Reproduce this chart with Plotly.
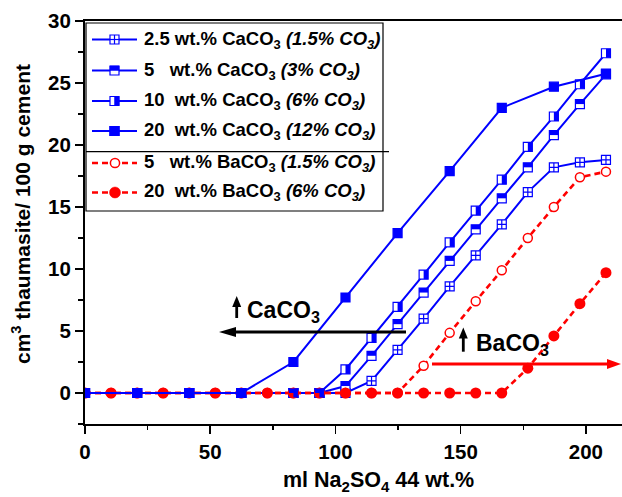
import plotly.graph_objects as go

# ---------------- data ----------------
ca25_x = [0, 20.8, 41.6, 62.4, 83.2, 93.6, 104.0, 114.4, 124.8, 135.2, 145.6, 156.0, 166.4, 176.8, 187.2, 197.6, 208.0]
ca25_y = [0, 0, 0, 0, 0, 0, 0.0, 0.97, 3.47, 6.0, 8.6, 11.1, 13.6, 16.2, 18.2, 18.6, 18.8]

ca5_x = [0, 20.8, 41.6, 62.4, 83.2, 93.6, 104.0, 114.4, 124.8, 135.2, 145.6, 156.0, 166.4, 176.8, 187.2, 197.6, 208.0]
ca5_y = [0, 0, 0, 0, 0, 0, 0.56, 3.0, 5.55, 8.1, 10.65, 13.2, 15.7, 18.2, 20.8, 23.3, 25.7]

ca10_x = [0, 20.8, 41.6, 62.4, 83.2, 93.6, 104.0, 114.4, 124.8, 135.2, 145.6, 156.0, 166.4, 176.8, 187.2, 197.6, 208.0]
ca10_y = [0, 0, 0, 0, 0, 0, 1.9, 4.45, 6.95, 9.55, 12.15, 14.7, 17.2, 19.85, 22.3, 24.9, 27.4]

ca20_x = [0, 20.8, 41.6, 62.4, 83.2, 104.0, 124.8, 145.6, 166.4, 187.2, 208.0]
ca20_y = [0, 0, 0, 0, 2.5, 7.7, 12.9, 17.9, 23.0, 24.7, 25.75]

ba_x = [0, 10.4, 20.8, 31.2, 41.6, 52.0, 62.4, 72.8, 83.2, 93.6, 104.0, 114.4, 124.8,
        135.2, 145.6, 156.0, 166.4, 176.8, 187.2, 197.6, 208.0]
ba5_y = [0, 0, 0, 0, 0, 0, 0, 0, 0, 0, 0, 0, 0,
         2.2, 4.85, 7.4, 9.9, 12.5, 15.0, 17.4, 17.85]
ba20_y = [0, 0, 0, 0, 0, 0, 0, 0, 0, 0, 0, 0, 0,
          0, 0, 0, 0, 2.0, 4.6, 7.2, 9.7]

legend_labels = [
    "2.5 wt.% CaCO<sub>3</sub> <i>(1.5% CO<sub>3</sub>)</i>",
    "5\u00a0\u00a0 wt.% CaCO<sub>3</sub> <i>(3% CO<sub>3</sub>)</i>",
    "10\u00a0 wt.% CaCO<sub>3</sub> <i>(6% CO<sub>3</sub>)</i>",
    "20\u00a0 wt.% CaCO<sub>3</sub> <i>(12% CO<sub>3</sub>)</i>",
    "5\u00a0\u00a0 wt.% BaCO<sub>3</sub> <i>(1.5% CO<sub>3</sub>)</i>",
    "20\u00a0 wt.% BaCO<sub>3</sub> <i>(6% CO<sub>3</sub>)</i>",
]
x_title = "ml Na<sub>2</sub>SO<sub>4</sub> 44 wt.%"
y_title = "cm<sup>3</sup> thaumasite/ 100 g cement"
x_ticks = [0, 50, 100, 150, 200]
y_ticks = [0, 5, 10, 15, 20, 25, 30]

# ---------------- layout geometry ----------------
W, H = 622, 497
ML, MR, MT, MB = 85, 0, 21, 73
PW, PH = W - ML - MR, H - MT - MB
XR = [0, 214.4]
YR = [-2.5, 30]
pxu = PW / (XR[1] - XR[0])
pyu = PH / (YR[1] - YR[0])

BLUE = "#0000FF"
RED = "#FF0000"
FONT = "Liberation Sans, Arial, sans-serif"
MS = 9          # square marker size
HALF = MS / 2.0
SHIFT = HALF / 2.0

def P(px, py):
    return (px - ML) / PW, (H - MB - py) / PH

fig = go.Figure()

def sq_trace(x, y, symbol, color_fill):
    return go.Scatter(x=x, y=y, mode="lines+markers", showlegend=False,
                      line=dict(color=BLUE, width=2),
                      marker=dict(symbol=symbol, size=MS, color=color_fill,
                                  line=dict(color=BLUE, width=1.2)))

# 2.5, 5, 10 wt% CaCO3 (under the red series)
fig.add_trace(sq_trace(ca25_x, ca25_y, "square-cross", "white"))
fig.add_trace(sq_trace(ca5_x, ca5_y, "square", "white"))
# top half fill for 5 wt%
fig.add_trace(go.Scatter(x=ca5_x, y=ca5_y, xaxis="x", yaxis="y2", mode="markers", showlegend=False,
                         marker=dict(symbol="line-ew", size=MS / 1.4, color=BLUE,
                                     line=dict(color=BLUE, width=HALF))))
fig.add_trace(sq_trace(ca10_x, ca10_y, "square", "white"))
# right half fill for 10 wt%
fig.add_trace(go.Scatter(x=ca10_x, y=ca10_y, xaxis="x2", yaxis="y", mode="markers", showlegend=False,
                         marker=dict(symbol="line-ns", size=MS / 1.4, color=BLUE,
                                     line=dict(color=BLUE, width=HALF))))

# BaCO3 series
fig.add_trace(go.Scatter(x=ba_x, y=ba5_y, mode="lines+markers", showlegend=False,
                         line=dict(color=RED, width=2.6, dash="6px,4px"),
                         marker=dict(symbol="circle", size=9, color="white",
                                     line=dict(color=RED, width=1.5))))
fig.add_trace(go.Scatter(x=ba_x, y=ba20_y, mode="lines+markers", showlegend=False,
                         line=dict(color=RED, width=2.6, dash="6px,4px"),
                         marker=dict(symbol="circle", size=11, color=RED,
                                     line=dict(color=RED, width=0))))
# 20 wt% CaCO3 on top
fig.add_trace(sq_trace(ca20_x, ca20_y, "square", BLUE))

shapes = []
annotations = []

def line_px(x0, y0, x1, y1, color="black", width=1.5, dash=None):
    a, b = P(x0, y0)
    c, d = P(x1, y1)
    ln = dict(color=color, width=width)
    if dash:
        ln["dash"] = dash
    shapes.append(dict(type="line", xref="paper", yref="paper", x0=a, y0=b, x1=c, y1=d, line=ln))

def rect_px(x0, y0, x1, y1, fill=None, color="black", width=1.0):
    a, b = P(x0, y0)
    c, d = P(x1, y1)
    shapes.append(dict(type="rect", xref="paper", yref="paper", x0=a, y0=b, x1=c, y1=d,
                       fillcolor=fill if fill else "rgba(0,0,0,0)",
                       line=dict(color=color, width=width)))

def circle_px(cx, cy, r, fill, color, width):
    a, b = P(cx - r, cy + r)
    c, d = P(cx + r, cy - r)
    shapes.append(dict(type="circle", xref="paper", yref="paper", x0=a, y0=b, x1=c, y1=d,
                       fillcolor=fill, line=dict(color=color, width=width)))

def tri_px(pts, color):
    path = "M " + " L ".join("%.5f,%.5f" % P(px, py) for px, py in pts) + " Z"
    shapes.append(dict(type="path", xref="paper", yref="paper", path=path,
                       fillcolor=color, line=dict(color=color, width=0)))

# ---------------- legend (manual) ----------------
rect_px(86, 23, 383, 211, fill="white", color="black", width=1.2)
line_px(86, 151.7, 389, 151.7, color="black", width=1.2)
rows = [39.5, 70.5, 101, 131, 163, 192.5]
for i, (yy, lab) in enumerate(zip(rows, legend_labels)):
    if i < 4:
        line_px(92, yy, 137, yy, color=BLUE, width=2)
        cx = 114.5
        h = MS / 2.0
        rect_px(cx - h, yy - h, cx + h, yy + h, fill="white", color=BLUE, width=1.2)
        if i == 0:
            line_px(cx, yy - h, cx, yy + h, color=BLUE, width=1.2)
            line_px(cx - h, yy, cx + h, yy, color=BLUE, width=1.2)
        elif i == 1:
            rect_px(cx - h, yy - h, cx + h, yy, fill=BLUE, color=BLUE, width=0.5)
        elif i == 2:
            rect_px(cx, yy - h, cx + h, yy + h, fill=BLUE, color=BLUE, width=0.5)
        else:
            rect_px(cx - h, yy - h, cx + h, yy + h, fill=BLUE, color=BLUE, width=1.2)
    else:
        line_px(92, yy, 137, yy, color=RED, width=2.6, dash="6px,4px")
        if i == 4:
            circle_px(115, yy, 4.6, "white", RED, 1.5)
        else:
            circle_px(115, yy, 5.5, RED, RED, 0.5)
    lx, ly = P(142, yy)
    annotations.append(dict(text=lab, xref="paper", yref="paper", x=lx, y=ly,
                            xanchor="left", yanchor="middle", showarrow=False,
                            font=dict(family=FONT, size=18.5, color="black", weight=700)))

# ---------------- arrows & labels ----------------
# black CaCO3 arrow (pointing left)
line_px(406, 332, 232, 332, color="black", width=3)
tri_px([(219, 332), (236, 327), (236, 337)], "black")
# red BaCO3 arrow (pointing right)
line_px(432, 364, 610, 364, color=RED, width=3)
tri_px([(621, 364), (607, 359), (607, 369)], RED)
# small up arrows
line_px(236.7, 318, 236.7, 304, color="black", width=2.8)
tri_px([(236.7, 296.0), (232.2, 307), (241.2, 307)], "black")
line_px(463.3, 351.7, 463.3, 337, color="black", width=2.8)
tri_px([(463.3, 327.5), (458.8, 338.5), (467.8, 338.5)], "black")

ax_, ay_ = P(245, 311)
annotations.append(dict(text="CaCO<sub>3</sub>", xref="paper", yref="paper", x=ax_, y=ay_,
                        xanchor="left", yanchor="middle", showarrow=False,
                        font=dict(family=FONT, size=23, color="black", weight=700)))
bx_, by_ = P(474, 344)
annotations.append(dict(text="BaCO<sub>3</sub>", xref="paper", yref="paper", x=bx_, y=by_,
                        xanchor="left", yanchor="middle", showarrow=False,
                        font=dict(family=FONT, size=23, color="black", weight=700)))

# axis titles
tx, ty = P(378, 481)
annotations.append(dict(text=x_title, xref="paper", yref="paper", x=tx, y=ty,
                        xanchor="center", yanchor="middle", showarrow=False,
                        font=dict(family=FONT, size=21.5, color="black", weight=700)))
ux, uy = P(21, 214)
annotations.append(dict(text=y_title, xref="paper", yref="paper", x=ux, y=uy, textangle=-90,
                        xanchor="center", yanchor="middle", showarrow=False,
                        font=dict(family=FONT, size=21, color="black", weight=700)))

fig.update_layout(
    width=W, height=H,
    margin=dict(l=ML, r=MR, t=MT, b=MB, pad=0),
    paper_bgcolor="white", plot_bgcolor="white",
    font=dict(family=FONT, size=20, color="black", weight=700),
    showlegend=False,
    hovermode=False,
    shapes=shapes,
    annotations=annotations,
    xaxis=dict(range=XR, tickmode="array", tickvals=x_ticks, ticktext=[str(v) for v in x_ticks],
               showgrid=False, zeroline=False, showline=True, linecolor="black", linewidth=2,
               mirror=True, ticks="outside", ticklen=8, tickwidth=1.5, tickcolor="black",
               minor=dict(tickvals=[25, 75, 125, 175], ticks="outside", ticklen=4,
                          tickwidth=1.5, tickcolor="black"),
               tickfont=dict(family=FONT, size=20.5, color="black", weight=700)),
    yaxis=dict(range=YR, tickmode="array", tickvals=y_ticks, ticktext=[str(v) for v in y_ticks],
               showgrid=False, zeroline=False, showline=True, linecolor="black", linewidth=2,
               ticks="outside", ticklen=8, tickwidth=1.5, tickcolor="black",
               minor=dict(tickvals=[-2.5, 2.5, 7.5, 12.5, 17.5, 22.5, 27.5], ticks="outside",
                          ticklen=5, tickwidth=1.5, tickcolor="black"),
               tickfont=dict(family=FONT, size=20.5, color="black", weight=700)),
    xaxis2=dict(overlaying="x", range=[XR[0] - SHIFT / pxu, XR[1] - SHIFT / pxu], visible=False),
    yaxis2=dict(overlaying="y", range=[YR[0] - SHIFT / pyu, YR[1] - SHIFT / pyu], visible=False),
)

fig.write_html("out.html",
               config={"displayModeBar": False, "staticPlot": True},
               post_script="document.body.style.margin='0';document.body.style.overflow='hidden';")
